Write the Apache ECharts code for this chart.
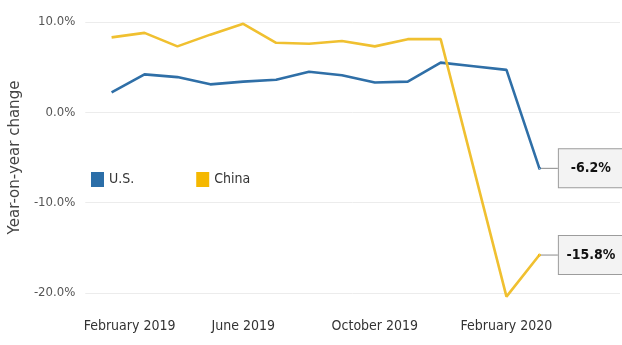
<!DOCTYPE html>
<html>
<head>
<meta charset="utf-8">
<script src="https://cdn.jsdelivr.net/npm/echarts@6/dist/echarts.min.js"></script>
<style>
  html, body { margin: 0; padding: 0; background: #fff; }
  #chart { width: 622px; height: 345px; }
</style>
</head>
<body>
<div id="chart"></div>
<script>
// monthly, Feb 2019 .. Mar 2020
var months = ['Feb 2019', 'Mar 2019', 'Apr 2019', 'May 2019', 'Jun 2019', 'Jul 2019', 'Aug 2019',
              'Sep 2019', 'Oct 2019', 'Nov 2019', 'Dec 2019', 'Jan 2020', 'Feb 2020', 'Mar 2020'];
var usValues    = [2.2, 4.2, 3.9, 3.1, 3.4, 3.6, 4.5, 4.1, 3.3, 3.4, 5.5, 5.1, 4.7, -6.2];
var chinaValues = [8.3, 8.8, 7.3, 8.6, 9.8, 7.7, 7.6, 7.9, 7.3, 8.1, 8.1, null, -20.4, -15.8];
var tickIndex  = [0, 4, 8, 12];
var tickLabels = ['February 2019', 'June 2019', 'October 2019', 'February 2020'];

var narrow = '"Liberation Sans Narrow", "DejaVu Sans Condensed", "Roboto Condensed", sans-serif';

function buildData(values) {
    var out = [];
    for (var i = 0; i < values.length; i++) {
        var v = values[i] == null ? '-' : values[i];
        if (i == values.length - 1) {
            out.push({ value: [i, v], symbolSize: 1, label: { show: true } });
        } else {
            out.push([i, v]);
        }
    }
    return out;
}

var endLabel = {
    show: false,
    position: 'right',
    distance: 4,
    formatter: function (p) { return '{v|' + p.value[1].toFixed(1) + '%}'; },
    backgroundColor: '#f3f3f3',
    borderColor: '#9c9c9c',
    borderWidth: 1,
    padding: [12, 7, 12, 7],
    rich: {
        v: { width: 50, align: 'center', fontFamily: narrow, fontWeight: 'bold', fontSize: 14, color: '#111' }
    }
};

var chart = echarts.init(document.getElementById('chart'));
var option = {
    animation: false,
    grid: { left: 80, right: 2, top: 22, bottom: 52 },
    legend: {
        left: 86,
        top: 167,
        itemWidth: 13,
        itemHeight: 15,
        itemGap: 62,
        icon: 'rect',
        textStyle: { fontFamily: narrow, fontSize: 14, color: '#333' },
        data: ['U.S.', 'China']
    },
    xAxis: {
        type: 'value',
        min: -0.8,
        max: 15.45,
        axisLine: { show: false },
        axisTick: { show: false },
        splitLine: { show: false },
        axisLabel: {
            customValues: tickIndex,
            margin: 26,
            fontFamily: narrow,
            fontSize: 14,
            color: '#333',
            formatter: function (val) {
                var k = tickIndex.indexOf(val);
                if (k == 0) return '{first|' + tickLabels[k] + '}';
                return tickLabels[k];
            },
            rich: {
                first: { fontFamily: narrow, fontSize: 14, color: '#333', padding: [0, 0, 0, 36] }
            }
        }
    },
    yAxis: {
        type: 'value',
        min: -20,
        max: 10,
        interval: 10,
        name: 'Year-on-year change',
        nameLocation: 'middle',
        nameGap: 62,
        nameTextStyle: { fontFamily: 'DejaVu Sans', fontSize: 15, color: '#444' },
        axisLine: { show: false },
        axisTick: { show: false },
        axisLabel: {
            margin: 10,
            fontFamily: narrow,
            fontSize: 13,
            color: '#555',
            formatter: function (v) { return v.toFixed(1) + '%'; }
        },
        splitLine: { lineStyle: { color: '#ececec', width: 1 } }
    },
    series: [
        {
            name: 'U.S.',
            type: 'line',
            data: buildData(usValues),
            clip: false,
            showSymbol: true,
            symbolSize: 0,
            color: '#2b6ea8',
            lineStyle: { width: 2.6, color: '#2f6fa7' },
            label: endLabel,
            labelLine: { show: true, lineStyle: { color: '#8a8a8a', width: 1 } },
            labelLayout: { dx: 14 }
        },
        {
            name: 'China',
            type: 'line',
            data: buildData(chinaValues),
            clip: false,
            connectNulls: true,
            showSymbol: true,
            symbolSize: 0,
            color: '#f5b800',
            lineStyle: { width: 2.6, color: '#f0c030' },
            label: endLabel,
            labelLine: { show: true, lineStyle: { color: '#8a8a8a', width: 1 } },
            labelLayout: { dx: 14 }
        }
    ]
};
chart.setOption(option);
</script>
</body>
</html>
